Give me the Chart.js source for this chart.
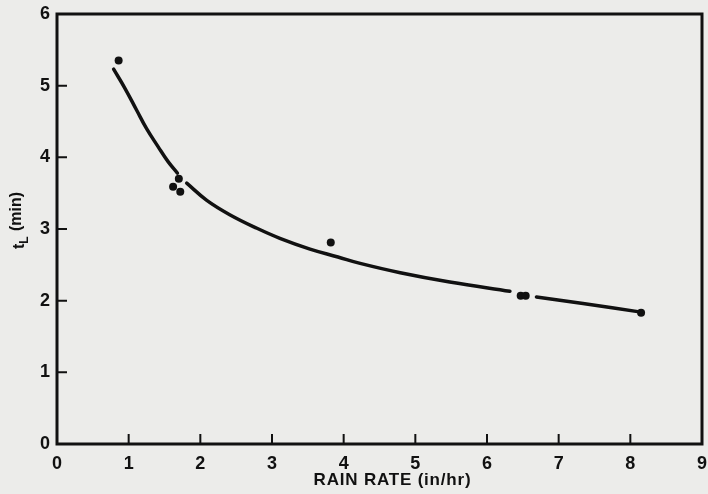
<!DOCTYPE html>
<html>
<head>
<meta charset="utf-8">
<script src="https://cdn.jsdelivr.net/npm/chart.js@4.4.1/dist/chart.umd.min.js"></script>
<style>
  html, body { margin: 0; padding: 0; background: #ececea; }
  #wrap { width: 708px; height: 494px; position: relative; }
</style>
</head>
<body>
<div id="wrap"><canvas id="c" width="708" height="494"></canvas></div>
<script>
// Fitted curve (gaps where the line was broken around data points)
const curveX = [0.79, 0.95, 1.11, 1.25, 1.41, 1.55, 1.68, null, 1.81, 2.09, 2.41, 2.79, 3.11, 3.53, 3.92, 4.23, 4.79, 5.48, 6.32, null, 6.69, 7.34, 8.15];
const curveY = [5.23, 4.96, 4.66, 4.40, 4.15, 3.94, 3.78, null, 3.64, 3.40, 3.20, 3.01, 2.87, 2.72, 2.61, 2.52, 2.39, 2.26, 2.13, null, 2.05, 1.96, 1.84];
// Observed points
const obsX = [0.86, 1.70, 1.62, 1.72, 3.82, 6.47, 6.54, 8.15];
const obsY = [5.35, 3.70, 3.59, 3.52, 2.81, 2.07, 2.07, 1.83];
// Axis ticks
const xTicks = [0, 1, 2, 3, 4, 5, 6, 7, 8, 9];
const yTicks = [0, 1, 2, 3, 4, 5, 6];
const xTitle = 'RAIN RATE (in/hr)';
const yTitleMain = 't';
const yTitleSub = 'L';
const yTitleRest = ' (min)';

const ink = '#111111';
const fam = '"Liberation Sans", Arial, sans-serif';

const curveData = curveX.map((x, i) => (x === null ? { x: NaN, y: NaN } : { x: x, y: curveY[i] }));
const obsData = obsX.map((x, i) => ({ x: x, y: obsY[i] }));

const framePlugin = {
  id: 'frame',
  beforeDraw(chart) {
    const ctx = chart.ctx;
    ctx.save();
    ctx.fillStyle = '#ececea';
    ctx.fillRect(0, 0, chart.width, chart.height);
    ctx.restore();
  },
  afterDraw(chart) {
    const ctx = chart.ctx;
    const a = chart.chartArea;
    const xs = chart.scales.x, ys = chart.scales.y;
    ctx.save();
    ctx.strokeStyle = ink;
    ctx.lineWidth = 3;
    ctx.strokeRect(a.left, a.top, a.right - a.left, a.bottom - a.top);
    ctx.lineWidth = 2;
    ctx.beginPath();
    xTicks.forEach(v => {
      if (v === xTicks[0] || v === xTicks[xTicks.length - 1]) return;
      const px = xs.getPixelForValue(v);
      ctx.moveTo(px, a.bottom);
      ctx.lineTo(px, a.bottom - 10);
    });
    yTicks.forEach(v => {
      if (v === yTicks[0] || v === yTicks[yTicks.length - 1]) return;
      const py = ys.getPixelForValue(v);
      ctx.moveTo(a.left, py);
      ctx.lineTo(a.left + 10, py);
    });
    ctx.stroke();
    // x title
    ctx.fillStyle = ink;
    ctx.textAlign = 'center';
    ctx.textBaseline = 'middle';
    ctx.font = 'bold 17px ' + fam;
    try { ctx.letterSpacing = '0.8px'; } catch (e) {}
    ctx.fillText(xTitle, (a.left + a.right) / 2 + 13, a.bottom + 36);
    try { ctx.letterSpacing = '0px'; } catch (e) {}
    // y title with subscript
    ctx.translate(19, (a.top + a.bottom) / 2 - 8);
    ctx.rotate(-Math.PI / 2);
    ctx.textBaseline = 'middle';
    const big = 'bold 16px ' + fam;
    const small = 'bold 12px ' + fam;
    ctx.font = big;
    const w1 = ctx.measureText(yTitleMain).width;
    ctx.font = small;
    const w2 = ctx.measureText(yTitleSub).width;
    ctx.font = big;
    const w3 = ctx.measureText(yTitleRest).width;
    let x0 = -(w1 + w2 + w3) / 2;
    ctx.textAlign = 'left';
    ctx.font = big;
    ctx.fillText(yTitleMain, x0, 1);
    ctx.font = small;
    ctx.fillText(yTitleSub, x0 + w1, 6);
    ctx.font = big;
    ctx.fillText(yTitleRest, x0 + w1 + w2 + 1, -2);
    ctx.restore();
  }
};

new Chart(document.getElementById('c'), {
  type: 'scatter',
  data: {
    datasets: [
      {
        data: curveData,
        showLine: true,
        spanGaps: false,
        borderColor: ink,
        borderWidth: 3.5,
        borderCapStyle: 'round',
        pointRadius: 0,
        tension: 0.4
      },
      {
        data: obsData,
        showLine: false,
        pointRadius: 4,
        pointBackgroundColor: ink,
        pointBorderWidth: 0,
        pointBorderColor: ink
      }
    ]
  },
  options: {
    responsive: false,
    animation: false,
    events: [],
    layout: { padding: { top: 14, right: 6, left: 0, bottom: 0 } },
    plugins: { legend: { display: false }, tooltip: { enabled: false } },
    scales: {
      x: {
        type: 'linear',
        min: xTicks[0],
        max: xTicks[xTicks.length - 1],
        afterBuildTicks: s => { s.ticks = xTicks.map(v => ({ value: v })); },
        afterFit: s => { s.height = 50; s.paddingLeft = 0; s.paddingRight = 0; },
        grid: { display: false, drawTicks: false },
        border: { display: false },
        ticks: {
          color: ink,
          padding: 9,
          maxRotation: 0,
          autoSkip: false,
          font: { family: fam, size: 18, weight: 'bold' }
        },
        title: { display: false }
      },
      y: {
        type: 'linear',
        min: yTicks[0],
        max: yTicks[yTicks.length - 1],
        afterBuildTicks: s => { s.ticks = yTicks.map(v => ({ value: v })); },
        afterFit: s => { s.width = 57; s.paddingTop = 0; s.paddingBottom = 0; },
        grid: { display: false, drawTicks: false },
        border: { display: false },
        ticks: {
          color: ink,
          padding: 7,
          font: { family: fam, size: 18, weight: 'bold' }
        }
      }
    }
  },
  plugins: [framePlugin]
});
</script>
</body>
</html>
